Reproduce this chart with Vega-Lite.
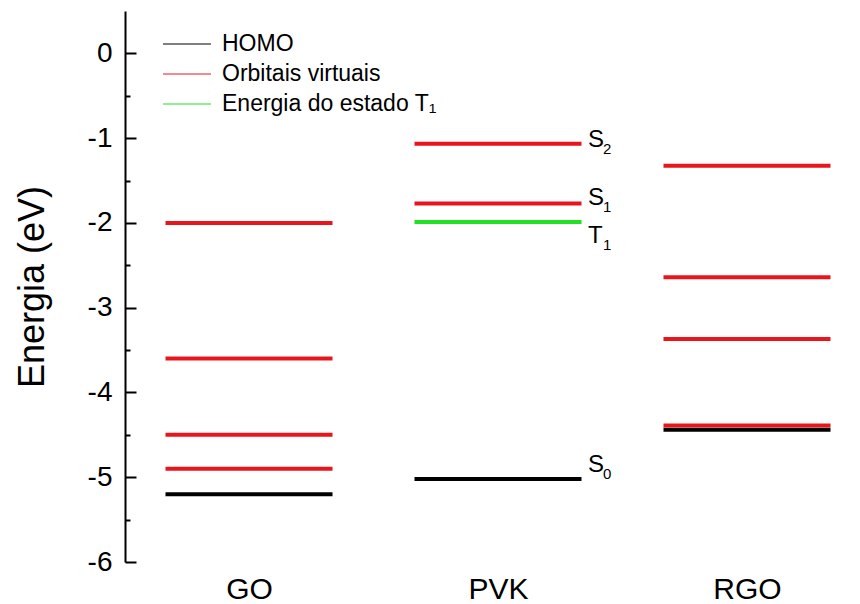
{
  "$schema": "https://vega.github.io/schema/vega-lite/v6.json",
  "width": 735,
  "height": 551,
  "autosize": {"type": "none"},
  "padding": {"left": 125, "top": 11, "right": 0, "bottom": 42},
  "background": "white",
  "config": {"font": "Liberation Sans", "view": {"stroke": null}},
  "datasets": {
    "levels": [
      {"material": "GO", "tipo": "Orbitais virtuais", "energia": -2.0},
      {"material": "GO", "tipo": "Orbitais virtuais", "energia": -3.6},
      {"material": "GO", "tipo": "Orbitais virtuais", "energia": -4.5},
      {"material": "GO", "tipo": "Orbitais virtuais", "energia": -4.9},
      {"material": "GO", "tipo": "HOMO", "energia": -5.2},
      {"material": "PVK", "tipo": "Orbitais virtuais", "energia": -1.065},
      {"material": "PVK", "tipo": "Orbitais virtuais", "energia": -1.77},
      {"material": "PVK", "tipo": "Energia do estado T₁", "energia": -1.99},
      {"material": "PVK", "tipo": "HOMO", "energia": -5.02},
      {"material": "RGO", "tipo": "HOMO", "energia": -4.44},
      {"material": "RGO", "tipo": "Orbitais virtuais", "energia": -1.325},
      {"material": "RGO", "tipo": "Orbitais virtuais", "energia": -2.64},
      {"material": "RGO", "tipo": "Orbitais virtuais", "energia": -3.37},
      {"material": "RGO", "tipo": "Orbitais virtuais", "energia": -4.39}
    ],
    "labels": [
      {"material": "PVK", "e": -1.104, "main": "S", "sub": "2"},
      {"material": "PVK", "e": -1.788, "main": "S", "sub": "1"},
      {"material": "PVK", "e": -2.237, "main": "T", "sub": "1"},
      {"material": "PVK", "e": -4.938, "main": "S", "sub": "0"}
    ]
  },
  "layer": [
    {
      "data": {"name": "levels"},
      "mark": {"type": "rule", "strokeWidth": 4, "xOffset": -83.5, "x2Offset": 83.5, "strokeCap": "butt"},
      "encoding": {
        "x": {
          "field": "material", "type": "nominal",
          "scale": {"type": "point", "domain": ["GO", "PVK", "RGO"], "range": [124, 622], "padding": 0},
          "axis": {"title": null, "labelFontSize": 30, "labelAngle": 0, "ticks": false, "domain": false, "labelColor": "black", "labelPadding": 12, "grid": false, "labelFont": "Liberation Sans"}
        },
        "x2": {"field": "material"},
        "y": {
          "field": "energia", "type": "quantitative",
          "scale": {"domain": [-6, 0.5], "nice": false, "zero": false},
          "axis": {
            "title": "Energia (eV)", "titleFontSize": 36, "titleFontWeight": "normal", "titleColor": "black", "titlePadding": 36, "titleFont": "Liberation Sans",
            "values": [-6, -5.5, -5, -4.5, -4, -3.5, -3, -2.5, -2, -1.5, -1, -0.5, 0],
            "labelExpr": "datum.value % 1 === 0 ? '' + datum.value : ''",
            "labelFontSize": 28, "labelColor": "black", "labelFont": "Liberation Sans", "labelPadding": 24,
            "tickSize": {"condition": {"test": "datum.value % 1 !== 0", "value": -5}, "value": -11},
            "tickWidth": 2, "tickColor": "black",
            "domainWidth": 2, "domainColor": "black", "grid": false
          }
        },
        "color": {
          "field": "tipo", "type": "nominal",
          "scale": {"domain": ["HOMO", "Orbitais virtuais", "Energia do estado T₁"], "range": ["#000000", "#e8161c", "#22e022"]},
          "legend": {
            "title": null, "orient": "none", "legendX": 37, "legendY": 20,
            "symbolType": "M-1,0H3", "symbolSize": 576, "symbolStrokeWidth": 1.2,
            "labelFontSize": 23, "labelFont": "Liberation Sans", "labelColor": "black", "labelOffset": 34, "labelLimit": 500,
            "rowPadding": 5, "padding": 0
          }
        }
      }
    },
    {
      "mark": {"type": "rule", "strokeWidth": 2, "color": "black"},
      "encoding": {"y": {"datum": 0.5}}
    },
    {
      "mark": {"type": "rule", "strokeWidth": 2, "color": "black"},
      "encoding": {"y": {"datum": -6}}
    },
    {
      "data": {"name": "labels"},
      "mark": {"type": "text", "align": "left", "baseline": "alphabetic", "dx": 90, "fontSize": 24, "font": "Liberation Sans", "color": "black"},
      "encoding": {
        "x": {"field": "material", "type": "nominal"},
        "y": {"field": "e", "type": "quantitative"},
        "text": {"field": "main"}
      }
    },
    {
      "data": {"name": "labels"},
      "mark": {"type": "text", "align": "left", "baseline": "alphabetic", "dx": 105, "dy": 7, "fontSize": 15, "font": "Liberation Sans", "color": "black"},
      "encoding": {
        "x": {"field": "material", "type": "nominal"},
        "y": {"field": "e", "type": "quantitative"},
        "text": {"field": "sub"}
      }
    }
  ]
}
